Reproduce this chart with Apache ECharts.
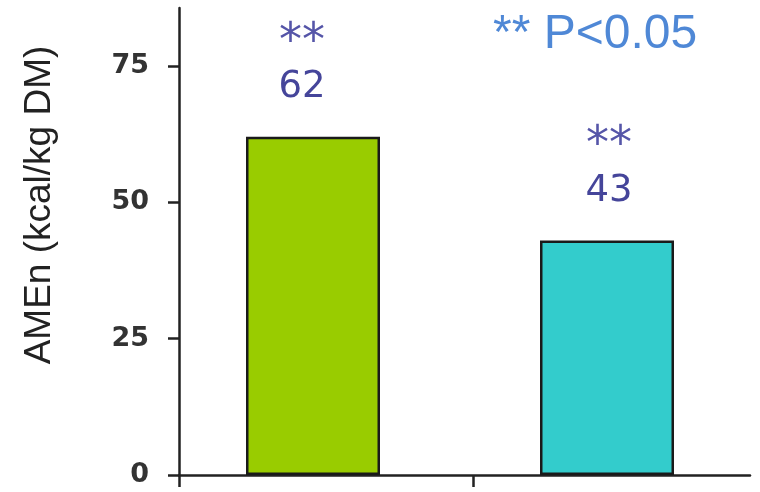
<!DOCTYPE html>
<html>
<head>
<meta charset="utf-8">
<script src="https://cdn.jsdelivr.net/npm/echarts@6/dist/echarts.min.js"></script>
<style>
  html, body { margin: 0; padding: 0; background: #ffffff; }
  #chart { width: 760px; height: 492px; }
</style>
</head>
<body>
<div id="chart"></div>
<script>
// Apparent metabolisable energy gain per treatment
const categories = ['Treatment A', 'Treatment B'];
const ameValues = [62, 43];
const significance = ['**', '**'];
const barColors = ['#99cc00', '#33cccc'];
const yTicks = [0, 25, 50, 75];
const yAxisTitle = 'AMEn (kcal/kg DM)';
const noteText = '** P<0.05';

const Y_MAX = 85.6;
// the visible baseline spans slightly less than two category slots
const X_SLOTS = 1.942;
const chart = echarts.init(document.getElementById('chart'), null, { renderer: 'canvas' });

const tickFont = { fontFamily: 'DejaVu Sans', fontWeight: 'bold', fontSize: 27, color: '#333333' };

const option = {
  backgroundColor: '#ffffff',
  animation: false,
  grid: [
    // grid for the bars
    { left: 166, width: 588, top: 8, height: 467 },
    // grid carrying the visible axes
    { left: 179, right: 10, top: 8, height: 467 }
  ],
  xAxis: [
    { type: 'category', gridIndex: 0, data: categories, show: false },
    {
      type: 'value', gridIndex: 1, min: 0, max: X_SLOTS, interval: 1,
      splitLine: { show: false },
      axisLine: { show: true, lineStyle: { color: '#222222', width: 2.5 } },
      axisTick: { show: true, length: 12, customValues: [0, 1], lineStyle: { color: '#222222', width: 2.5 } },
      axisLabel: { show: false }
    }
  ],
  yAxis: [
    { type: 'value', gridIndex: 0, min: 0, max: Y_MAX, show: false, splitLine: { show: false } },
    {
      type: 'value', gridIndex: 1, min: 0, max: Y_MAX, interval: 25,
      splitLine: { show: false },
      axisLine: { show: true, lineStyle: { color: '#222222', width: 2.5 } },
      axisTick: { show: true, length: 11, customValues: yTicks, lineStyle: { color: '#222222', width: 2.5 } },
      axisLabel: Object.assign({ margin: 30, customValues: yTicks }, tickFont)
    }
  ],
  series: [
    {
      type: 'bar',
      xAxisIndex: 0,
      yAxisIndex: 0,
      barWidth: 134,
      data: ameValues.map((v, i) => ({
        value: v,
        itemStyle: { color: barColors[i] },
        label: { offset: [i === 0 ? -11 : 2, 0] }
      })),
      itemStyle: { borderColor: '#1a1a1a', borderWidth: 2.5 },
      label: {
        show: true,
        position: 'top',
        distance: 29,
        formatter: (p) => '{s|' + significance[p.dataIndex] + '}\n{v|' + p.value + '}',
        rich: {
          s: { fontFamily: 'DejaVu Sans', fontSize: 46, lineHeight: 50, color: '#5555a8', align: 'center' },
          v: { fontFamily: 'DejaVu Sans', fontSize: 37, lineHeight: 40, color: '#45459a', align: 'center' }
        }
      }
    }
  ],
  graphic: [
    {
      type: 'text',
      x: 40, y: 205,
      rotation: Math.PI / 2,
      style: {
        text: yAxisTitle,
        font: '37px "Liberation Sans", Arial, sans-serif',
        fill: '#222222',
        textAlign: 'center',
        textVerticalAlign: 'middle'
      }
    },
    {
      type: 'text',
      x: 493, y: 35,
      style: {
        text: noteText,
        font: '48px "Liberation Sans", Arial, sans-serif',
        fill: '#4f88d6',
        textAlign: 'left',
        textVerticalAlign: 'middle'
      }
    }
  ]
};

chart.setOption(option);
</script>
</body>
</html>
